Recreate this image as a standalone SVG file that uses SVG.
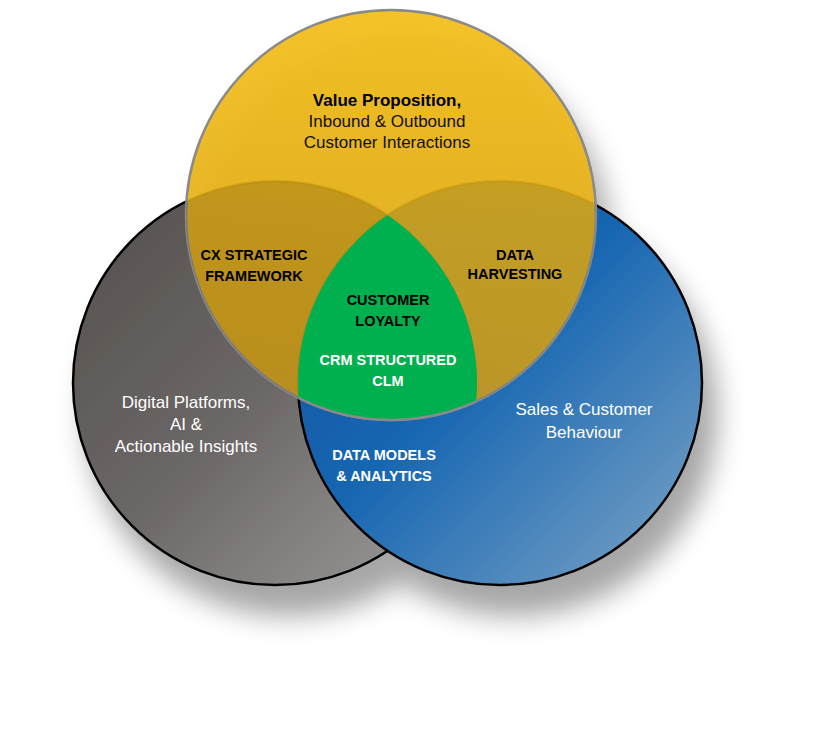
<svg xmlns="http://www.w3.org/2000/svg" width="824" height="737" viewBox="0 0 824 737">
<style>
text{font-family:"Liberation Sans","DejaVu Sans",sans-serif;text-anchor:middle}
.b{font-weight:bold;font-size:14.5px}
.n{font-size:17px}
</style>
<defs>
<filter id="sh" x="-30%" y="-30%" width="160%" height="170%"><feGaussianBlur in="SourceAlpha" stdDeviation="14"/><feOffset dx="14" dy="30"/><feComponentTransfer><feFuncA type="linear" slope="0.35"/></feComponentTransfer><feMerge><feMergeNode/><feMergeNode in="SourceGraphic"/></feMerge></filter>
<linearGradient id="gg" x1="0" y1="0" x2="1" y2="1"><stop offset="0" stop-color="#524e4c"/><stop offset="0.5" stop-color="#6c6867"/><stop offset="1" stop-color="#a09f9e"/></linearGradient>
<linearGradient id="bg" x1="0" y1="0" x2="1" y2="1"><stop offset="0" stop-color="#0a4f9c"/><stop offset="0.45" stop-color="#1766b2"/><stop offset="1" stop-color="#7fa6c6"/></linearGradient>
<linearGradient id="yg" x1="0" y1="0" x2="0" y2="1"><stop offset="0" stop-color="#f3bd15"/><stop offset="1" stop-color="#d9a520"/></linearGradient>
<clipPath id="cg"><circle cx="275" cy="383" r="202"/></clipPath>
<clipPath id="cb"><circle cx="500" cy="383" r="202"/></clipPath>
</defs>
<g filter="url(#sh)">
<g id="gray"><circle cx="275" cy="383" r="202" fill="url(#gg)" stroke="#000" stroke-width="2.5"/></g>
<g id="blue"><circle cx="500" cy="383" r="202" fill="url(#bg)" stroke="#000" stroke-width="2.5"/></g>
<g id="yellow"><circle cx="391" cy="215" r="205" fill="url(#yg)" fill-opacity="0.92" stroke="#8a8a8a" stroke-width="2.5"/>
<circle cx="391" cy="215" r="205" fill="#000" fill-opacity="0.12" clip-path="url(#cg)"/>
<circle cx="391" cy="215" r="205" fill="#5a5a20" fill-opacity="0.15" clip-path="url(#cb)"/></g>
<g id="center" clip-path="url(#cg)"><circle cx="391" cy="215" r="205" fill="#00b050" stroke="#8a8a8a" stroke-width="2.5" clip-path="url(#cb)"/></g>
</g>
<g id="connectors"/>
<g id="labels">
<text x="387" y="106" style="font-size:17px;font-weight:bold" fill="#000">Value Proposition,</text>
<text x="387" y="127" class="n" fill="#111">Inbound &amp; Outbound</text>
<text x="387" y="148" class="n" fill="#111">Customer Interactions</text>
<text x="254" y="260" class="b">CX STRATEGIC</text>
<text x="254" y="281" class="b">FRAMEWORK</text>
<text x="515" y="260" class="b">DATA</text>
<text x="515" y="279" class="b">HARVESTING</text>
<text x="388" y="305" class="b">CUSTOMER</text>
<text x="388" y="326" class="b">LOYALTY</text>
<text x="388" y="365" class="b" fill="#fff">CRM STRUCTURED</text>
<text x="388" y="386" class="b" fill="#fff">CLM</text>
<text x="186" y="408" class="n" fill="#fff">Digital Platforms,</text>
<text x="186" y="430" class="n" fill="#fff">AI &amp;</text>
<text x="186" y="452" class="n" fill="#fff">Actionable Insights</text>
<text x="384" y="460" class="b" fill="#fff">DATA MODELS</text>
<text x="384" y="481" class="b" fill="#fff">&amp; ANALYTICS</text>
<text x="584" y="415" class="n" fill="#fff">Sales &amp; Customer</text>
<text x="584" y="438" class="n" fill="#fff">Behaviour</text>
</g>
</svg>
